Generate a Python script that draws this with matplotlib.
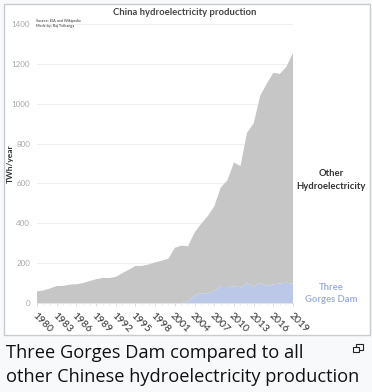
#!/usr/bin/env python3
"""China hydroelectricity production, Three Gorges Dam against all the rest."""

import numpy as np
import matplotlib
matplotlib.use('Agg')
import matplotlib.pyplot as plt
from matplotlib.patches import Rectangle

WIDTH, HEIGHT = 372, 392

years = list(range(1980, 2020))
total_twh = [58, 63, 73, 85, 86, 92, 94, 100, 110, 119,
             126, 125, 131, 150, 167, 186, 186, 193, 204, 212,
             222, 277, 288, 284, 353, 397, 435, 485, 580, 615,
             705, 687, 855, 900, 1040, 1100, 1155, 1150, 1185, 1255]
dam_twh = [0, 0, 0, 0, 0, 0, 0, 0, 0, 0,
           0, 0, 0, 0, 0, 0, 0, 0, 0, 0,
           0, 0, 0, 9, 39, 49, 49, 62, 81, 80,
           84, 79, 98, 83, 99, 87, 93, 98, 102, 97]
y_ticks = [0, 200, 400, 600, 800, 1000, 1200, 1400]
x_ticks = list(range(1980, 2020, 3))
caption = ['Three Gorges Dam compared to all',
           'other Chinese hydroelectricity production']

GRAY = '#c6c6c6'
BLUE = '#bcc8e8'


def px_rect(x0, y0, x1, y1):
    """Figure fraction rectangle from pixel edges, y counted from the top."""
    return [x0 / WIDTH, 1 - y1 / HEIGHT, (x1 - x0) / WIDTH, (y1 - y0) / HEIGHT]


plt.rcParams['font.family'] = ['Lato', 'DejaVu Sans']

fig = plt.figure(figsize=(WIDTH / 100, HEIGHT / 100), dpi=100, facecolor='#f8f9fa')

# white box with thin border around the image, behind the axes
fig.add_artist(Rectangle((3.5 / WIDTH, 1 - 334.5 / HEIGHT), 366 / WIDTH, 331 / HEIGHT,
                         transform=fig.transFigure, facecolor='white',
                         edgecolor='#c8ccd1', linewidth=1, zorder=-1))

ax = fig.add_axes(px_rect(37, 24, 293, 303))
ax.patch.set_alpha(0)
total = np.array(total_twh)
dam = np.array(dam_twh)
ax.stackplot(years, dam, total - dam, colors=[BLUE, GRAY], linewidth=0, zorder=2)
ax.set_xlim(1980, 2019)
ax.set_ylim(0, 1400)
ax.set_yticks(y_ticks)
ax.set_xticks(x_ticks)
ax.set_xticks(years, minor=True)
ax.set_xticklabels(x_ticks, rotation=-45, ha='left', rotation_mode='anchor',
                   fontsize=7.5, color='#333333')
ax.tick_params(axis='x', which='major', length=2.5, width=0.6, color='#d8d8d8', pad=3)
ax.tick_params(axis='x', which='minor', length=1.5, width=0.5, color='#e0e0e0')
ax.tick_params(axis='y', length=0, pad=5, labelsize=5.8, labelcolor='#a8a8a8')
ax.grid(axis='y', color='#f0f0f0', linewidth=0.8, zorder=0)
ax.set_axisbelow(True)
for side in ['top', 'right', 'left']:
    ax.spines[side].set_visible(False)
ax.spines['bottom'].set_color('#e0e0e0')
ax.spines['bottom'].set_linewidth(0.6)

fig.text(10 / WIDTH, 1 - 163.5 / HEIGHT, 'TWh/year', rotation=90, fontsize=6,
         fontweight='bold', color='#333333', ha='center', va='center')
fig.text(185 / WIDTH, 1 - 12.5 / HEIGHT, 'China hydroelectricity production', fontsize=6.85,
         fontweight='bold', color='#444444', ha='center', va='center')
fig.text(36 / WIDTH, 1 - 21 / HEIGHT, 'Source: EIA and Wikipedia', fontsize=2.8,
         color='#333333', va='center')
fig.text(36 / WIDTH, 1 - 26.5 / HEIGHT, 'Made by: Raj Tolkanga', fontsize=2.8,
         color='#333333', va='center')

fig.text(331 / WIDTH, 1 - 174 / HEIGHT, 'Other', fontsize=6.8, fontweight='bold',
         color='#333333', ha='center', va='center')
fig.text(331 / WIDTH, 1 - 186.5 / HEIGHT, 'Hydroelectricity', fontsize=6.8, fontweight='bold',
         color='#333333', ha='center', va='center')
fig.text(331 / WIDTH, 1 - 287.5 / HEIGHT, 'Three', fontsize=6.8, fontweight='bold',
         color='#9fb0de', ha='center', va='center')
fig.text(331 / WIDTH, 1 - 300 / HEIGHT, 'Gorges Dam', fontsize=6.8, fontweight='bold',
         color='#9fb0de', ha='center', va='center')

fig.text(6 / WIDTH, 1 - 352.5 / HEIGHT, caption[0], fontsize=13.15, color='#111111',
         family=['Open Sans', 'DejaVu Sans'], va='center')
fig.text(6 / WIDTH, 1 - 376.5 / HEIGHT, caption[1], fontsize=13.15, color='#111111',
         family=['Open Sans', 'DejaVu Sans'], va='center')

# small enlarge icon next to the caption
fig.add_artist(Rectangle((355.5 / WIDTH, 1 - 349.5 / HEIGHT), 7.5 / WIDTH, 5.5 / HEIGHT,
                         transform=fig.transFigure, facecolor='none',
                         edgecolor='#222222', linewidth=0.8))
fig.add_artist(Rectangle((352.5 / WIDTH, 1 - 351.5 / HEIGHT), 6.5 / WIDTH, 5 / HEIGHT,
                         transform=fig.transFigure, facecolor='#f8f9fa',
                         edgecolor='#222222', linewidth=0.8))

fig.savefig('out.png', dpi=100, facecolor=fig.get_facecolor())
